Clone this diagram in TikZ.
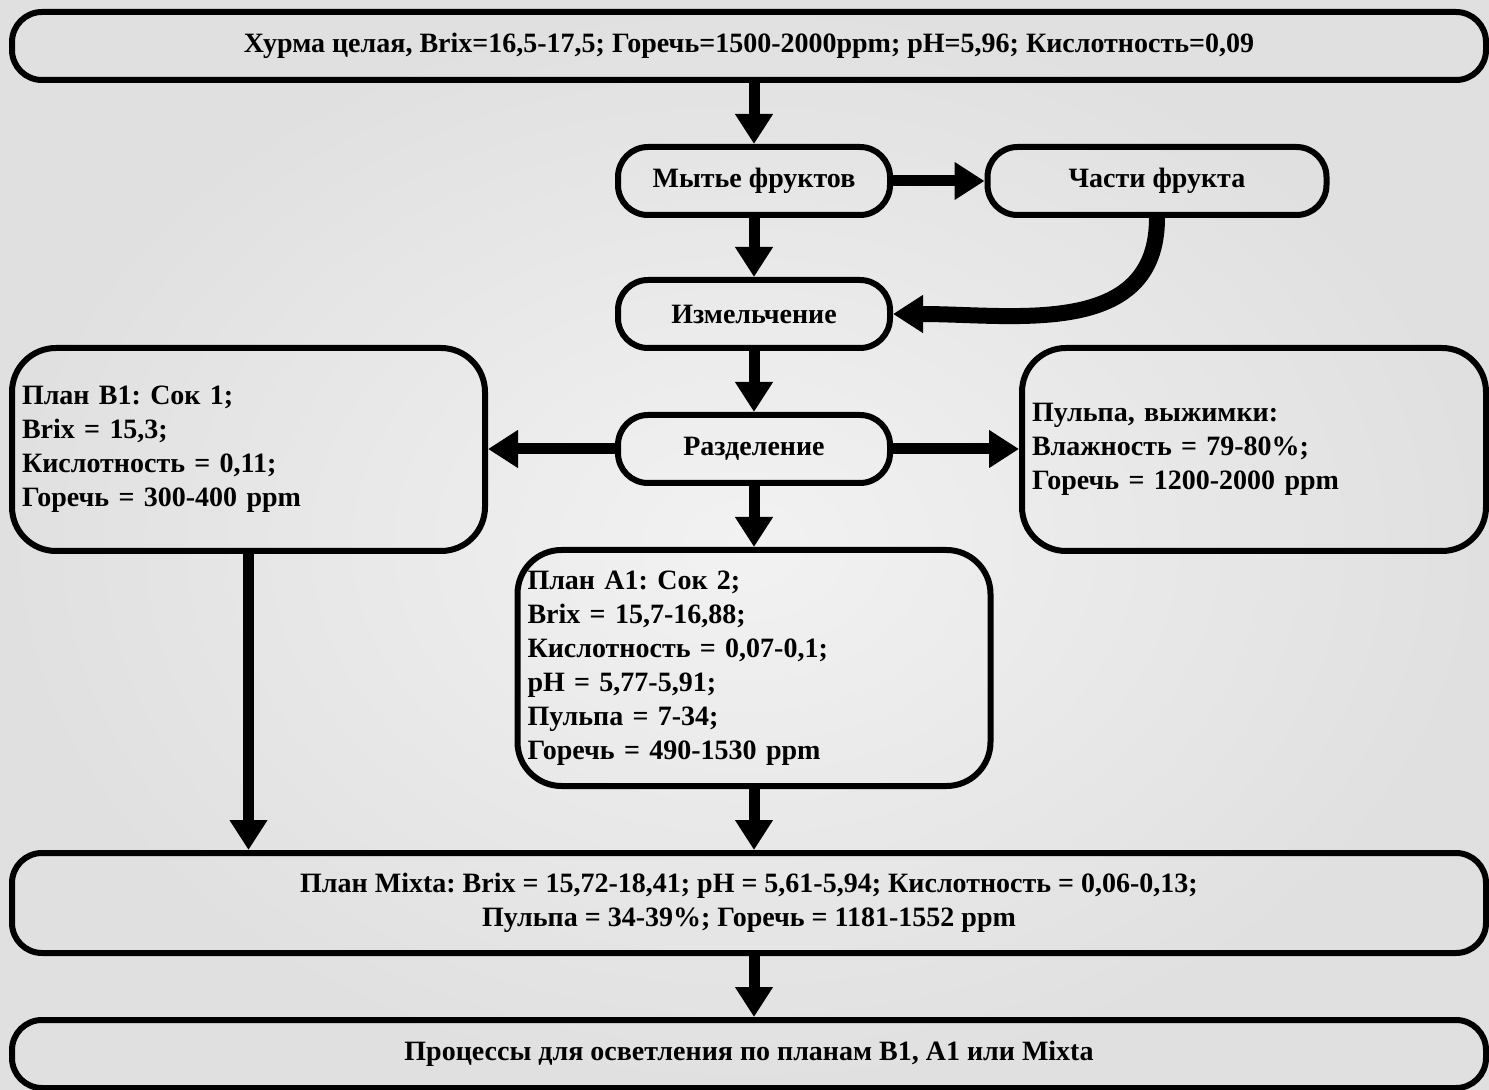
\documentclass[tikz,border=0pt]{standalone}
\usepackage{fontspec}
\setmainfont{Liberation Serif}
\frenchspacing
\usetikzlibrary{arrows.meta}

\definecolor{fonsvet}{RGB}{242,242,242}
\definecolor{fontemn}{RGB}{224,224,224}

\begin{document}
\begin{tikzpicture}[x=0.5pt, y=-0.5pt,
    font=\fontsize{14pt}{17pt}\selectfont\bfseries,
    box/.style={draw, line width=3pt, rounded corners=15pt, inner sep=5pt},
    smallbox/.style={box, minimum width=136pt, minimum height=34pt},
    widebox/.style={box, minimum width=737pt, align=center},
    databox/.style={box, rounded corners=22pt, text width=226.5pt, align=left},
    arr/.style={line width=5.5pt, -{Triangle[width=18pt,length=15pt]}}]

      % фон
      \useasboundingbox (0,0) rectangle (1489,1090);
      \shade [inner color=fonsvet, outer color=fontemn] (0,0) rectangle (1489,1090);

      % блоки
      \node [widebox, minimum height=34pt] (syrye) at (749,46) {Хурма целая, Brix=16,5-17,5; Горечь=1500-2000ppm; pH=5,96; Кислотность=0,09};
      \node [smallbox] (mytye) at (754,181) {Мытье фруктов};
      \node [smallbox, minimum width=169.5pt] (chasti) at (1157,181) {Части фрукта};
      \node [smallbox] (izmel) at (754,314) {Измельчение};
      \node [smallbox] (razdel) at (754,449) {Разделение};
      \node [databox, minimum height=101.5pt] (planb) at (248.5,449.5) {План B1: Сок 1;\\Brix = 15,3;\\Кислотность = 0,11;\\Горечь = 300-400 ppm};
      \node [databox, text width=222pt, minimum height=101.5pt] (pulpa) at (1254,449.5) {Пульпа, выжимки:\\Влажность = 79-80\%;\\Горечь = 1200-2000 ppm};
      \node [databox, minimum height=118pt] (plana) at (754,668) {План A1: Сок 2;\\Brix = 15,7-16,88;\\Кислотность = 0,07-0,1;\\pH = 5,77-5,91;\\Пульпа = 7-34;\\Горечь = 490-1530 ppm};
      \node [widebox, minimum height=50pt] (mixta) at (749,903) {План Mixta: Brix = 15,72-18,41; pH = 5,61-5,94; Кислотность = 0,06-0,13;\\Пульпа = 34-39\%; Горечь = 1181-1552 ppm};
      \node [widebox, minimum height=34pt] (osvetl) at (749,1054) {Процессы для осветления по планам B1, A1 или Mixta};

      % стрелки
      \draw [arr] (mytye.north |- syrye.south) -- (mytye.north);
      \draw [arr] (mytye.east) -- (chasti.west);
      \draw [arr] (mytye.south) -- (izmel.north);
      \draw [arr, line width=8pt] (chasti.south) to [out=-90, in=0, looseness=1.1] (izmel.east);
      \draw [arr] (izmel.south) -- (razdel.north);
      \draw [arr] (razdel.west) -- (planb.east |- razdel.west);
      \draw [arr] (razdel.east) -- (pulpa.west |- razdel.east);
      \draw [arr] (razdel.south) -- (plana.north);
      \draw [arr] (planb.south) -- (planb.south |- mixta.north);
      \draw [arr] (plana.south) -- (plana.south |- mixta.north);
      \draw [arr] (plana.south |- mixta.south) -- (plana.south |- osvetl.north);
    \end{tikzpicture}
\end{document}
